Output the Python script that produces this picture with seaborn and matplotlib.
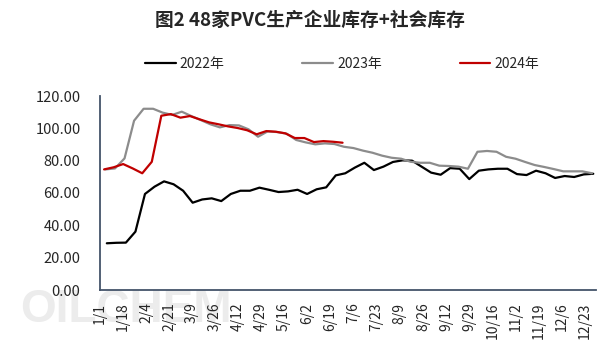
import matplotlib
matplotlib.use('Agg')
import matplotlib.pyplot as plt
import seaborn as sns
import pandas as pd

# 48家PVC生产企业库存+社会库存 (万吨), 周度数据
series_names = ['2022年', '2023年', '2024年']
start_dates = ['2022-01-06', '2023-01-05', '2024-01-04']

stock_2022 = [28.9, 29.2, 29.3, 36.1, 59.4, 63.9, 67.2, 65.4, 61.4, 54.0,
              56.0, 56.7, 55.0, 59.4, 61.4, 61.4, 63.3, 62.0, 60.6, 61.0,
              62.0, 59.4, 62.3, 63.5, 70.9, 72.2, 75.7, 78.7, 74.2, 76.3,
              79.2, 80.2, 80.0, 76.3, 72.6, 71.3, 75.4, 75.0, 68.6, 73.8,
              74.6, 75.0, 75.0, 71.7, 71.1, 73.8, 72.2, 69.3, 70.5, 69.9,
              71.5, 71.9]
stock_2023 = [74.6, 75.2, 81.4, 104.7, 112.1, 112.1, 109.7, 108.3, 110.3, 107.6,
              105.1, 102.5, 100.6, 102.0, 101.8, 99.4, 94.8, 98.1, 97.7, 96.7,
              92.8, 91.3, 90.1, 90.7, 90.3, 88.6, 87.8, 86.2, 84.9, 83.1,
              81.8, 81.2, 79.3, 78.7, 78.7, 76.9, 76.7, 76.3, 75.0, 85.5,
              86.0, 85.5, 82.4, 81.2, 79.2, 77.3, 76.1, 74.8, 73.4, 73.4,
              73.4, 72.2]
stock_2024 = [74.6, 75.9, 77.9, 75.2, 72.2, 79.3, 107.8, 108.8, 106.6, 107.6,
              105.6, 103.7, 102.5, 101.2, 100.2, 98.8, 96.3, 98.3, 97.9, 96.9,
              94.0, 94.0, 91.5, 92.1, 91.7, 91.1]

tick_labels = ['1/1', '1/18', '2/4', '2/21', '3/9', '3/26', '4/12', '4/29',
               '5/16', '6/2', '6/19', '7/6', '7/23', '8/9', '8/26', '9/12',
               '9/29', '10/16', '11/2', '11/19', '12/6', '12/23']
tick_days = [pd.Timestamp('2023-' + t.replace('/', '-')).dayofyear - 1 for t in tick_labels]

colors = {'2022年': '#000000', '2023年': '#8c8c8c', '2024年': '#c00000'}

frames = []
for name, start, vals in zip(series_names, start_dates, [stock_2022, stock_2023, stock_2024]):
    dates = pd.date_range(start, periods=len(vals), freq='7D')
    frames.append(pd.DataFrame({'day': dates.dayofyear - 1, 'value': vals, 'year': name}))
df = pd.concat(frames, ignore_index=True)

sns.set_theme(style='white')
plt.rcParams['font.family'] = ['Noto Sans CJK SC', 'DejaVu Sans']

fig = plt.figure(figsize=(6.15, 3.52), dpi=100)
# 水印
fig.text(20 / 615, 1 - 322 / 352, 'OILCHEM', family='Liberation Sans', fontsize=33,
         fontweight='bold', color='#ececec', ha='left', va='baseline', zorder=-5)

ax = fig.add_axes([100 / 615, 1 - 290 / 352, 496 / 615, 194 / 352])
ax.patch.set_alpha(0)
sns.lineplot(data=df, x='day', y='value', hue='year', palette=colors,
             linewidth=1.6, ax=ax, legend=True)

ax.set_xlim(0, 364)
ax.set_ylim(0, 120)
ax.set_yticks(range(0, 121, 20))
ax.set_yticklabels([f'{v:.2f}' for v in range(0, 121, 20)], fontsize=10.5)
ax.set_xticks(tick_days)
ax.set_xticklabels(tick_labels, rotation=90, fontsize=10)
ax.tick_params(axis='both', length=0)
ax.tick_params(axis='y', pad=14)
ax.tick_params(axis='x', pad=9)
ax.set_xlabel('')
ax.set_ylabel('')
for s in ['top', 'right']:
    ax.spines[s].set_visible(False)
for s in ['left', 'bottom']:
    ax.spines[s].set_color('#44546A')
    ax.spines[s].set_linewidth(1.3)

handles, labels = ax.get_legend_handles_labels()
ax.get_legend().remove()
fig.legend(handles, labels, loc='center', bbox_to_anchor=(342 / 615, 1 - 64 / 352),
           ncol=3, frameon=False, fontsize=10, handlelength=2.2, handletextpad=0.3,
           columnspacing=5.6)

fig.text(310 / 615, 1 - 20 / 352, '图2 48家PVC生产企业库存+社会库存', ha='center',
         va='center', fontsize=13.5, fontweight='bold')

fig.savefig('out.png', dpi=100)
